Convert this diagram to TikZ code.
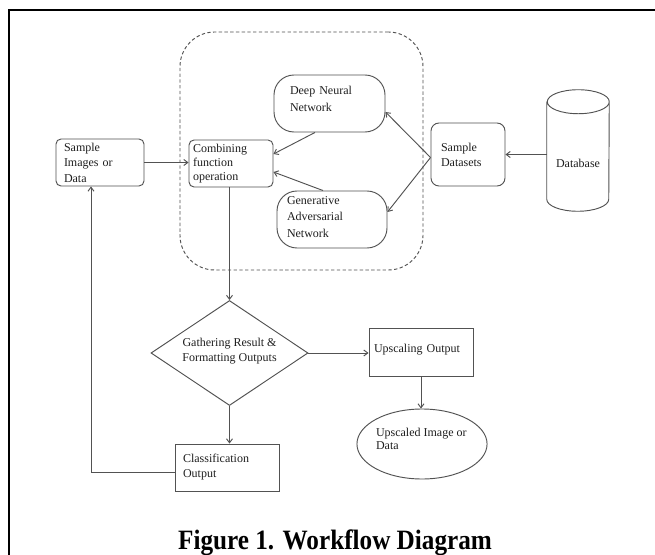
\documentclass[tikz,border=0pt]{standalone}
\usepackage{fontspec}
\setmainfont{Liberation Serif}
\usetikzlibrary{arrows.meta,calc,shapes.geometric}
\begin{document}
\begin{tikzpicture}[x=0.75pt,y=-0.75pt,
  every node/.style={text=black!88, font=\fontsize{9pt}{11.25pt}\selectfont},
  shp/.style={draw=black!68, line width=0.7pt},
  rbox/.style={shp, rectangle, rounded corners=3.75pt, inner ysep=0pt, align=left},
  sbox/.style={shp, rectangle, inner ysep=0pt, align=left},
  grpbox/.style={draw=black!68, line width=0.7pt, dash pattern=on 2.5pt off 1.8pt, rounded corners=26pt, minimum width=182.25pt, minimum height=178.5pt},
  arr/.style={draw=black!68, line width=0.7pt, -{Straight Barb[length=3pt,width=4.5pt]}}
]
\fill[white] (0,0) rectangle (655,555);
\useasboundingbox (0,0) rectangle (655,555);

% frame
\draw[line width=1.5pt] (9,555) -- (9,10) -- (655,10);

% dashed group
\node[grpbox] (grp) at (301.5,151) {};

% nodes
\node[rbox, minimum width=66pt, minimum height=35.25pt, inner xsep=6pt, text width=54pt,
  font=\fontsize{9pt}{11.6pt}\selectfont] (sid) at (100,162.5) {Sample\\Images or\\Data};
\node[rbox, minimum width=63pt, minimum height=35.25pt, inner xsep=3pt, text width=57pt,
  font=\fontsize{9pt}{10.5pt}\selectfont] (comb) at (231,163.5) {Combining\\function\\operation};
\node[rbox, rounded corners=15pt, minimum width=83.25pt, minimum height=42.75pt, inner xsep=12pt, text width=59.25pt,
  font=\fontsize{9pt}{12.75pt}\selectfont] (dnn) at (329.5,103.5) {Deep Neural\\Network\rule[-7.5pt]{0pt}{7.5pt}};
\node[rbox, rounded corners=15pt, minimum width=82.5pt, minimum height=42.75pt, inner xsep=7.5pt, text width=67.5pt,
  font=\fontsize{9pt}{12.4pt}\selectfont] (gan) at (332,219.5) {Generative\\Adversarial\\Network\rule[-3.75pt]{0pt}{3.75pt}};
\node[rbox, rounded corners=6pt, minimum width=55.5pt, minimum height=47.25pt, inner xsep=7.5pt, text width=40.5pt,
  font=\fontsize{9pt}{11.25pt}\selectfont] (sds) at (468,154.5) {Sample\\Datasets};
\node[minimum width=46.5pt, minimum height=90.75pt, inner sep=0pt] (db) at (578,150.5) {\rule{0pt}{26.25pt}Database};
\draw[shp] ($(db.north west)+(0,12)$) -- ($(db.south west)+(0,-12)$)
  arc[start angle=180,end angle=360,x radius=23.25pt,y radius=9pt]
  -- ($(db.north east)+(0,12)$)
  arc[start angle=0,end angle=180,x radius=23.25pt,y radius=9pt]
  arc[start angle=180,end angle=360,x radius=23.25pt,y radius=9pt];

\node[diamond, shp, aspect=1.5, minimum width=117.75pt, minimum height=78.75pt, inner sep=0pt, align=center,
  font=\fontsize{9pt}{11.25pt}\selectfont] (dia) at (229.5,353) {Gathering Result \&\\Formatting Outputs\rule[-5.25pt]{0pt}{5.25pt}};
\node[sbox, minimum width=78pt, minimum height=35.25pt, inner xsep=6pt, text width=66pt] (cls) at (227,467.5) {Classification\\Output};
\node[sbox, minimum width=78pt, minimum height=36pt, inner xsep=3.75pt, text width=70.5pt] (ups) at (421,352) {Upscaling Output\rule[-6pt]{0pt}{6pt}};
\node[ellipse, shp, minimum width=97.5pt, minimum height=52.5pt, inner sep=0pt, align=left,
  font=\fontsize{9pt}{9.75pt}\selectfont] (ued) at (422,444) {\makebox[69pt][l]{Upscaled Image or}\\Data\rule[-8.25pt]{0pt}{8.25pt}};

% caption
\node[anchor=base, text=black, font=\fontsize{21pt}{25pt}\selectfont\bfseries] (cap) at (335,549) {\scalebox{0.9}[1]{Figure 1. Workflow Diagram}};

% connectors
\draw[arr] (sid.east) -- (sid.east -| comb.west);
\draw[arr] ($(dnn.south)+(-14.5,0)$) -- ($(comb.east)+(0,-9.5)$);
\draw[arr] ($(gan.north)+(-9,0)$) -- ($(comb.east)+(0,8.5)$);
\draw[arr] ($(sds.west)+(0,3)$) -- ($(dnn.east)+(0,8.5)$);
\draw[arr] ($(sds.west)+(0,3)$) -- ($(gan.east)+(0,-7.5)$);
\draw[arr] (sds.east -| db.west) -- (sds.east);
\draw[arr] (dia.north |- comb.south) -- (dia.north);
\draw[arr] (dia.south) -- (dia.south |- cls.north);
\draw[arr] (dia.east) -- (dia.east -| ups.west);
\draw[arr] (ups.south) -- (ups.south |- ued.north);
\draw[arr] ($(cls.west)+(0,4.5)$) -| ($(sid.south)+(-9,0)$);
\end{tikzpicture}
\end{document}
